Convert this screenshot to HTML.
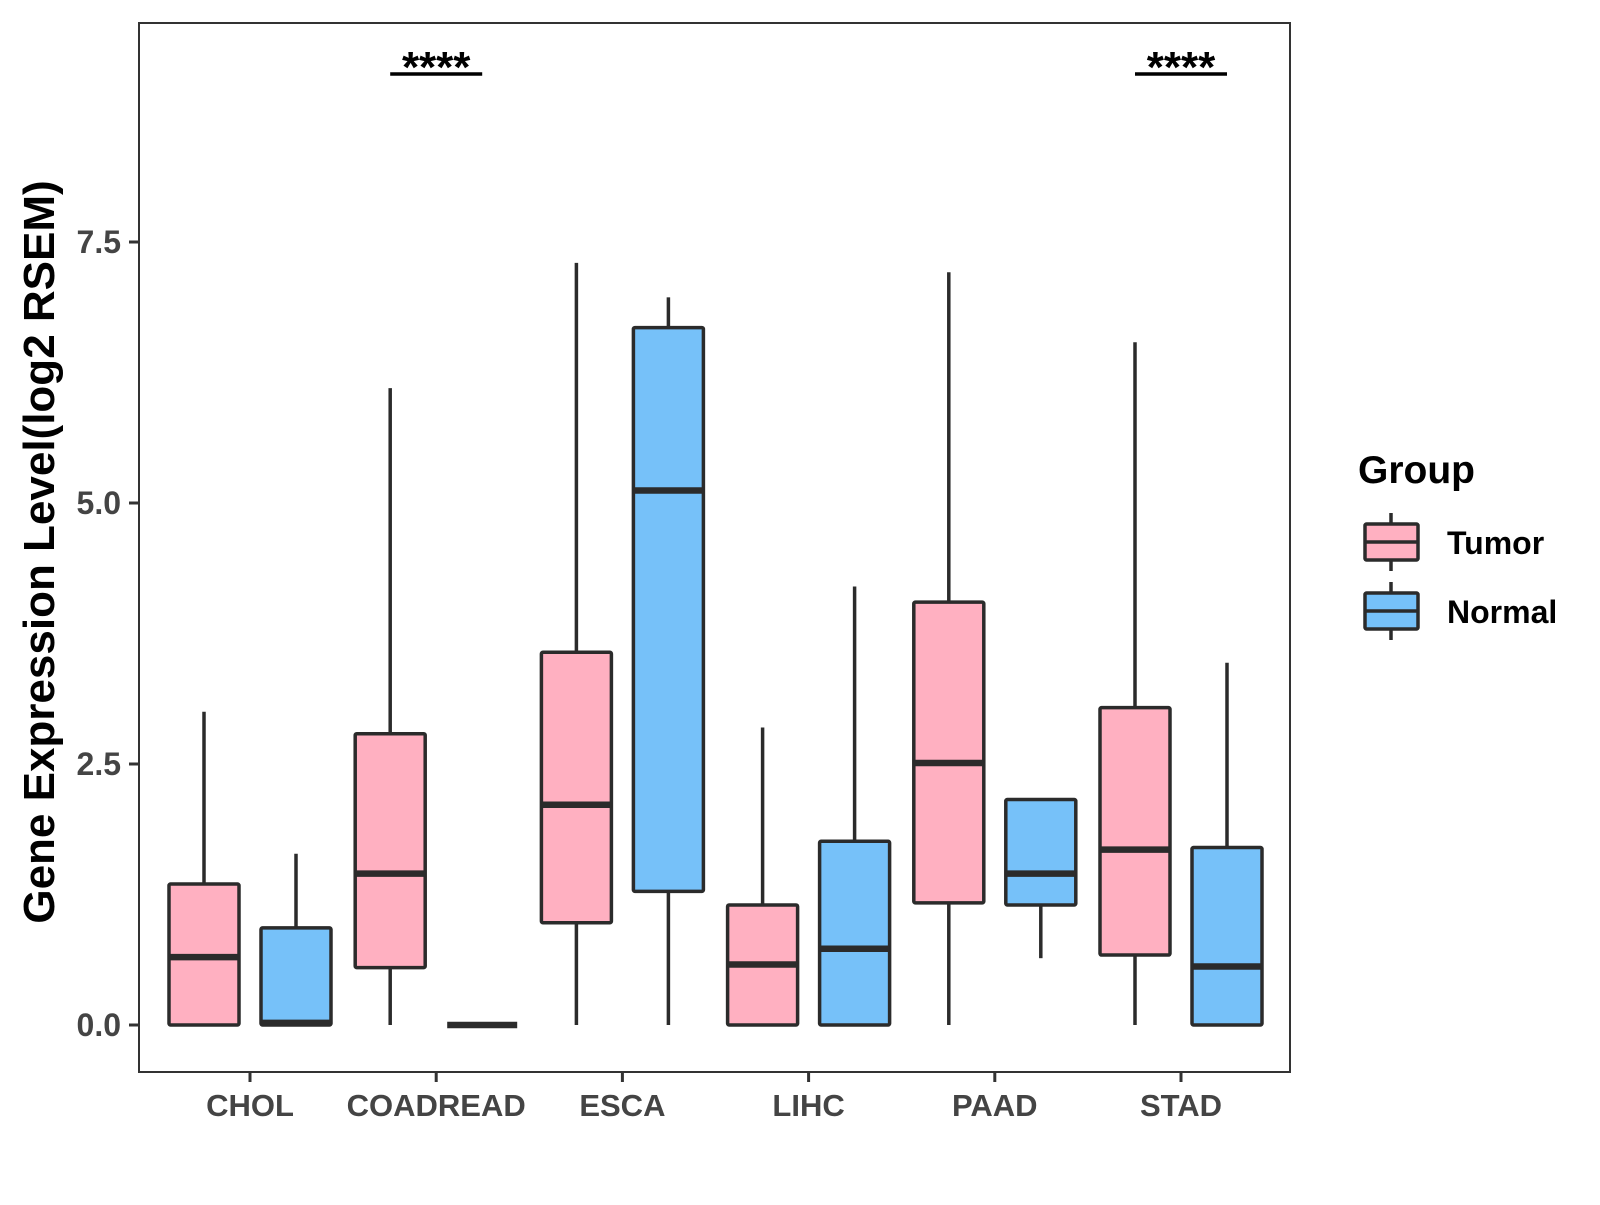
<!DOCTYPE html>
<html><head><meta charset="utf-8"><style>
html,body{margin:0;padding:0;background:#fff;}
svg text{font-family:"Liberation Sans",Arial,sans-serif;font-weight:bold;}
</style></head><body>
<svg id="chart" width="1600" height="1200" viewBox="0 0 1600 1200" xmlns="http://www.w3.org/2000/svg">
<rect x="0" y="0" width="1600" height="1200" fill="#fff"/>
<g id="plot"></g>
<rect x="139" y="23" width="1151" height="1049" fill="none" stroke="#333" stroke-width="2"/>
<g id="axes"></g>
<text transform="translate(54,552) rotate(-90)" text-anchor="middle" font-size="44" fill="#000">Gene Expression Level(log2 RSEM)</text>
<g>
<text x="1358" y="483" font-size="39" fill="#000">Group</text>
<g>
<line x1="1391" y1="513" x2="1391" y2="571" stroke="#2b2b2b" stroke-width="3.5"/>
<rect x="1365" y="524" width="53" height="36" fill="#FFB0C1" stroke="#2b2b2b" stroke-width="3.5" rx="1.5"/>
<line x1="1365" y1="542" x2="1418" y2="542" stroke="#2b2b2b" stroke-width="3.5"/>
<text x="1447" y="554" font-size="32" fill="#000">Tumor</text>
</g>
<g>
<line x1="1391" y1="582" x2="1391" y2="640" stroke="#2b2b2b" stroke-width="3.5"/>
<rect x="1365" y="593" width="53" height="36" fill="#76C1F9" stroke="#2b2b2b" stroke-width="3.5" rx="1.5"/>
<line x1="1365" y1="611" x2="1418" y2="611" stroke="#2b2b2b" stroke-width="3.5"/>
<text x="1447" y="623" font-size="32" fill="#000">Normal</text>
</g>
</g>
</svg>
<script>
const categories = ["CHOL","COADREAD","ESCA","LIHC","PAAD","STAD"];
const groups = ["Tumor","Normal"];
const tumorMin = [0,0,0,0,0,0];
const tumorQ1 = [0,0.55,0.98,0,1.17,0.67];
const tumorMed = [0.65,1.45,2.11,0.58,2.51,1.68];
const tumorQ3 = [1.35,2.79,3.57,1.15,4.05,3.04];
const tumorMax = [3.0,6.1,7.3,2.85,7.21,6.54];
const normalMin = [0,0,0,0,0.64,0];
const normalQ1 = [0,0,1.28,0,1.15,0];
const normalMed = [0.02,0,5.12,0.73,1.45,0.56];
const normalQ3 = [0.93,0,6.68,1.76,2.16,1.7];
const normalMax = [1.64,0,6.97,4.2,2.16,3.47];
const yTicks = [0,2.5,5,7.5];
const yTickLabels = ["0.0","2.5","5.0","7.5"];
const sigCategories = ["COADREAD","STAD"];
const sigLabels = ["****","****"];

const NS="http://www.w3.org/2000/svg";
function yScale(v){return 1025 - v*104.4;}
function xScale(i){return 250 + i*186.2;}
const dodge=46, halfW=35;
const plot=document.getElementById('plot');
const axes=document.getElementById('axes');
function mk(tag,attrs,parent){const e=document.createElementNS(NS,tag);for(const k in attrs)e.setAttribute(k,attrs[k]);parent.appendChild(e);return e;}

const series=[
 {name:"tumor",fill:"#FFB0C1",off:-dodge,min:tumorMin,q1:tumorQ1,med:tumorMed,q3:tumorQ3,max:tumorMax},
 {name:"normal",fill:"#76C1F9",off:dodge,min:normalMin,q1:normalQ1,med:normalMed,q3:normalQ3,max:normalMax}
];
categories.forEach((c,i)=>{
 series.forEach(s=>{
  const cx=xScale(i)+s.off;
  const g=mk('g',{},plot);
  
  
  mk('line',{x1:cx,x2:cx,y1:yScale(s.max[i]),y2:yScale(s.q3[i]),stroke:'#2b2b2b','stroke-width':3.5},g);
  mk('line',{x1:cx,x2:cx,y1:yScale(s.q1[i]),y2:yScale(s.min[i]),stroke:'#2b2b2b','stroke-width':3.5},g);
  mk('rect',{x:cx-halfW,y:yScale(s.q3[i]),width:halfW*2,height:Math.max(0,yScale(s.q1[i])-yScale(s.q3[i])),fill:s.fill,stroke:'#2b2b2b','stroke-width':3.5,rx:1.5},g);
  mk('line',{x1:cx-halfW,x2:cx+halfW,y1:yScale(s.med[i]),y2:yScale(s.med[i]),stroke:'#2b2b2b','stroke-width':6.5},g);
 });
 const t=mk('line',{x1:xScale(i),x2:xScale(i),y1:1072,y2:1082,stroke:'#333','stroke-width':3},axes);
 
 
 const l=mk('text',{x:xScale(i),y:1116,'text-anchor':'middle','font-size':31,fill:'#444'},axes);
 
 
 l.textContent=c;
});
yTicks.forEach((v,i)=>{
 const t=mk('line',{x1:129,x2:139,y1:yScale(v),y2:yScale(v),stroke:'#333','stroke-width':3},axes);
 
 
 const l=mk('text',{x:121,y:yScale(v)+11,'text-anchor':'end','font-size':32,fill:'#444'},axes);
 
 
 l.textContent=yTickLabels[i];
});
sigCategories.forEach((c,k)=>{
 const i=categories.indexOf(c);
 const x1=xScale(i)-dodge, x2=xScale(i)+dodge;
 const g=mk('g',{},plot);
 
 
 mk('line',{x1:x1,x2:x2,y1:74,y2:74,stroke:'#000','stroke-width':3.5},g);
 const t=mk('text',{x:(x1+x2)/2,y:82,'text-anchor':'middle','font-size':44,fill:'#000'},g);
 t.textContent=sigLabels[k];
});
</script>
</body></html>
